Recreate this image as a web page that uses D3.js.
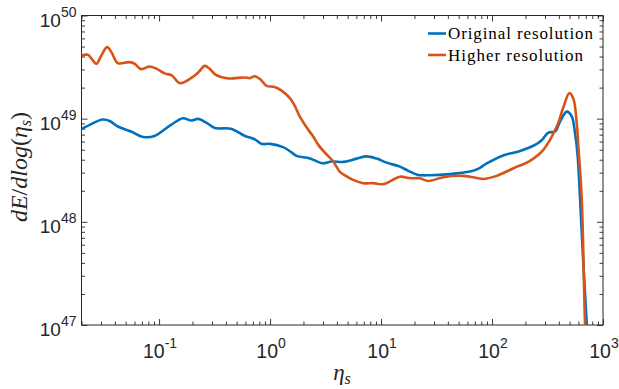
<!DOCTYPE html>
<html><head><meta charset="utf-8">
<script src="https://cdn.jsdelivr.net/npm/d3@7"></script>
<style>
html,body{margin:0;padding:0;background:#fff;}
svg{display:block;}
</style></head>
<body>
<svg id="chart" width="619" height="389"></svg>
<script>
// ---- data ----
const etaOrig = [0.02,0.0247,0.031,0.0359,0.0425,0.056,0.067,0.0763,0.091,0.128,0.164,0.194,0.226,0.269,0.318,0.443,0.593,0.73,0.838,1.0,1.31,1.54,1.73,2.29,2.93,3.6,4.63,6.02,7.42,9.12,11.2,14.8,17.6,21.6,27.6,41.8,63.3,74.8,89.6,126,179,244,282,322,370,410,472,523,560,590,622,662,715,740];
const dEOrig  = [7.9e48,8.9e48,9.8e48,9.5e48,8.4e48,7.5e48,6.8e48,6.6e48,6.8e48,8.7e48,1.01e49,9.6e48,9.95e48,9.1e48,8.1e48,8.0e48,6.8e48,6.3e48,5.7e48,5.7e48,5.3e48,4.77e48,4.36e48,4.12e48,3.7e48,3.84e48,3.81e48,4.1e48,4.31e48,4.1e48,3.75e48,3.43e48,3.12e48,2.85e48,2.83e48,2.9e48,3.07e48,3.26e48,3.68e48,4.4e48,4.87e48,5.57e48,6.22e48,7.33e48,7.5e48,9.37e48,1.17e49,1.05e49,7.2e48,4.46e48,1.63e48,4.3e47,1.0e47,5e46];

const etaHigh = [0.02,0.0228,0.0247,0.0272,0.0298,0.034,0.0375,0.0425,0.054,0.0604,0.069,0.0819,0.0953,0.112,0.13,0.154,0.194,0.228,0.258,0.286,0.325,0.416,0.589,0.658,0.73,0.826,0.93,1.10,1.28,1.51,1.67,1.86,2.21,2.43,2.72,3.23,3.68,4.26,4.89,5.61,6.91,8.5,10.5,12.5,14.8,18.2,22.4,26.7,36.4,55.1,63.3,83.5,110,156,220,290,383,440,498,541,580,603,644,690,715];
const dEHigh  = [4.07e49,4.16e49,3.8e49,3.4e49,3.98e49,4.94e49,4.35e49,3.45e49,3.53e49,3.4e49,3.02e49,3.2e49,3.04e49,2.75e49,2.63e49,2.21e49,2.47e49,2.84e49,3.25e49,3.04e49,2.66e49,2.46e49,2.51e49,2.47e49,2.58e49,2.38e49,2.08e49,2.03e49,1.86e49,1.58e49,1.33e49,1.04e49,7.8e48,6.8e48,5.57e48,4.5e48,3.9e48,3.05e48,2.76e48,2.55e48,2.37e48,2.37e48,2.32e48,2.52e48,2.74e48,2.65e48,2.64e48,2.49e48,2.71e48,2.79e48,2.74e48,2.6e48,2.79e48,3.31e48,3.9e48,4.98e48,8.38e48,1.3e49,1.77e49,1.56e49,9.0e48,4.98e48,1.63e48,1.0e47,5e46];

const xTickExps = [-1, 0, 1, 2, 3];
const yTickExps = [47, 48, 49, 50];
const seriesNames = ["Original resolution", "Higher resolution"];
const seriesColors = ["#0072BD", "#D95319"];
const xDomain = [0.02, 1000];
const yDomain = [1e47, 1e50];

// ---- layout ----
const L = 81.5, R = 603, T = 15.5, B = 325;
const svg = d3.select("#chart");
const x = d3.scaleLog().domain(xDomain).range([L, R]);
const y = d3.scaleLog().domain(yDomain).range([B, T]);
const axisColor = "#262626";

svg.append("defs").append("clipPath").attr("id","clip")
  .append("rect").attr("x",L).attr("y",T).attr("width",R-L).attr("height",B-T);

const xMinor = [], yMinor = [];
for (let e = -2; e < 3; e++) for (let m = 2; m <= 9; m++) { const v = m*Math.pow(10,e); if (v>=xDomain[0] && v<=xDomain[1]) xMinor.push(v); }
for (let e = 47; e < 50; e++) for (let m = 2; m <= 9; m++) yMinor.push(m*Math.pow(10,e));
const xMajor = xTickExps.map(e => Math.pow(10,e));
const yMajor = yTickExps.map(e => Math.pow(10,e));

const majLen = 6, minLen = 3.5;
const g = svg.append("g");

function addAxis(axisGen, tx, ty){
  const a = g.append("g").attr("transform",`translate(${tx},${ty})`).call(axisGen);
  a.select(".domain").remove();
  a.selectAll("line").attr("stroke",axisColor).attr("stroke-width",0.9);
  a.selectAll("text").remove();
  return a;
}
addAxis(d3.axisBottom(x).tickValues(xMajor).tickSizeInner(-majLen).tickSizeOuter(0), 0, B);
addAxis(d3.axisBottom(x).tickValues(xMinor).tickSizeInner(-minLen).tickSizeOuter(0), 0, B);
addAxis(d3.axisTop(x).tickValues(xMajor).tickSizeInner(-majLen).tickSizeOuter(0), 0, T);
addAxis(d3.axisTop(x).tickValues(xMinor).tickSizeInner(-minLen).tickSizeOuter(0), 0, T);
addAxis(d3.axisLeft(y).tickValues(yMajor).tickSizeInner(-majLen).tickSizeOuter(0), L, 0);
addAxis(d3.axisLeft(y).tickValues(yMinor).tickSizeInner(-minLen).tickSizeOuter(0), L, 0);
addAxis(d3.axisRight(y).tickValues(yMajor).tickSizeInner(-majLen).tickSizeOuter(0), R, 0);
addAxis(d3.axisRight(y).tickValues(yMinor).tickSizeInner(-minLen).tickSizeOuter(0), R, 0);

// lines
const line = d3.line().x(d => x(d[0])).y(d => y(d[1])).curve(d3.curveCatmullRom.alpha(0.5));
const series = [d3.zip(etaOrig, dEOrig), d3.zip(etaHigh, dEHigh)];
const lg = svg.append("g").attr("clip-path","url(#clip)");
series.forEach((s,i) => {
  lg.append("path").datum(s).attr("d", line)
    .attr("fill","none").attr("stroke",seriesColors[i]).attr("stroke-width",2.6)
    .attr("stroke-linejoin","round").attr("stroke-linecap","round");
});

// box
g.append("rect").attr("x",L).attr("y",T).attr("width",R-L).attr("height",B-T)
  .attr("fill","none").attr("stroke",axisColor).attr("stroke-width",1);

// tick labels
const tickFont = "'Liberation Sans', Arial, Helvetica, sans-serif";
xTickExps.forEach(e => {
  const t = svg.append("text").attr("x", x(Math.pow(10,e)) + 1).attr("y", B + 33)
    .attr("text-anchor","middle").attr("font-family",tickFont).attr("font-size",19.5).attr("fill",axisColor);
  t.append("tspan").text("10");
  t.append("tspan").attr("dy",-10.5).attr("font-size",14).text(String(e));
});
yTickExps.forEach(e => {
  const t = svg.append("text").attr("x", L - 5).attr("y", y(Math.pow(10,e)) + 11)
    .attr("text-anchor","end").attr("font-family",tickFont).attr("font-size",19).attr("fill",axisColor);
  t.append("tspan").text("10");
  t.append("tspan").attr("dy",-10).attr("font-size",14).text(String(e));
});

// axis labels
const serif = "'Liberation Serif', 'Times New Roman', serif";
const xl = svg.append("text").attr("x", 342).attr("y", 380).attr("text-anchor","middle")
  .attr("font-family",serif).attr("font-size",23).attr("font-style","italic").attr("fill",axisColor);
xl.append("tspan").text("η");
xl.append("tspan").attr("dy",4).attr("font-size",16).text("s");

const yl = svg.append("text").attr("transform","translate(27,167) rotate(-90)")
  .attr("text-anchor","middle").attr("font-family",serif).attr("font-size",24).attr("fill",axisColor);
yl.append("tspan").attr("font-style","italic").text("dE");
yl.append("tspan").text("/");
yl.append("tspan").attr("font-style","italic").text("dlog");
yl.append("tspan").text("(");
yl.append("tspan").attr("font-style","italic").text("η");
yl.append("tspan").attr("font-style","italic").attr("font-size",16).attr("dy",4).text("s");
yl.append("tspan").attr("dy",-4).text(")");

// legend
const legY = [33.5, 55];
const legW = [145, 135];
seriesNames.forEach((n,i) => {
  svg.append("line").attr("x1",428).attr("x2",446).attr("y1",legY[i]).attr("y2",legY[i])
    .attr("stroke",seriesColors[i]).attr("stroke-width",2.6);
  svg.append("text").attr("x",448).attr("y",legY[i]+5.5).attr("font-family",serif)
    .attr("font-size",17).attr("fill","#000").attr("textLength",legW[i]).attr("lengthAdjust","spacing").text(n);
});
</script>
</body></html>
